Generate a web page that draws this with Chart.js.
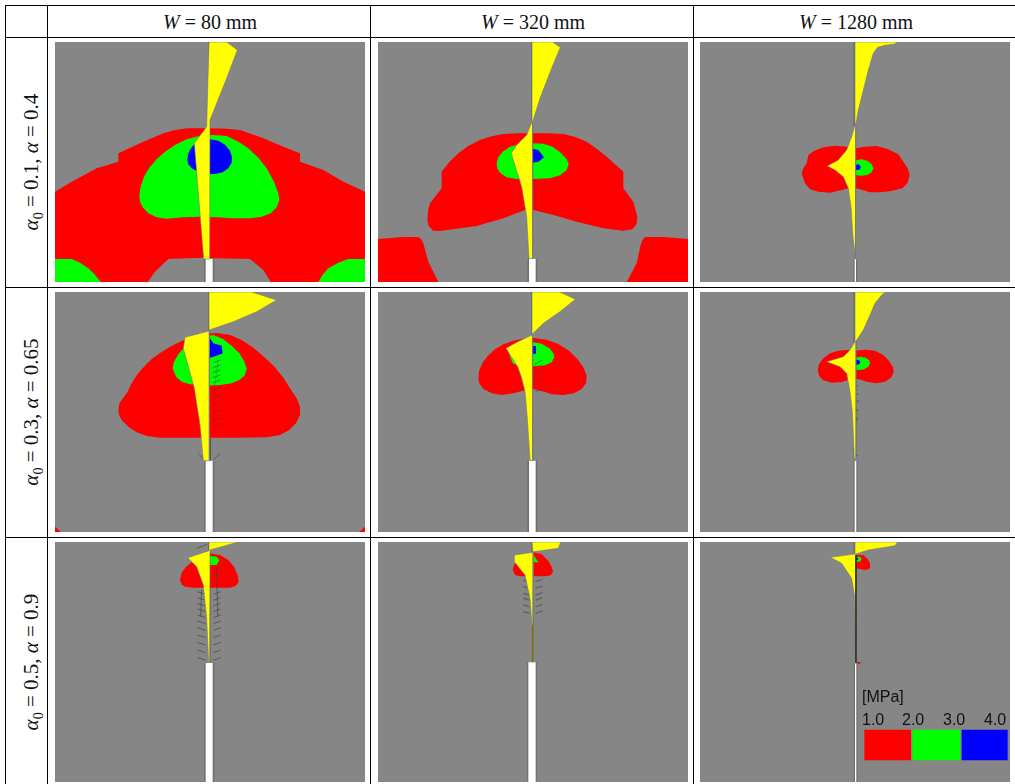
<!DOCTYPE html>
<html>
<head>
<meta charset="utf-8">
<title>Stress maps</title>
<script src="https://cdn.jsdelivr.net/npm/chart.js@4"></script>
<style>
	html, body { margin: 0; padding: 0; background: #fff; overflow: hidden; }
	#page { position: relative; width: 1015px; height: 784px; overflow: hidden; }
	.rule { position: absolute; background: #000; }
	.panel { position: absolute; background: #868686; overflow: hidden; }
	.panel canvas { filter: blur(0.45px); }
	.head, .side { position: absolute; font-family: "Liberation Serif", serif; color: #111; white-space: pre; }
	.head { font-size: 20px; transform: translate(-50%, -50%); }
	.side { font-size: 21px; transform: translate(-50%, -50%) rotate(-90deg); }
	sub { font-size: 14px; line-height: 0; }
	.leg { position: absolute; font-family: "Liberation Sans", sans-serif; font-size: 16px; color: #111; }
</style>
</head>
<body>
<div id="page"></div>
<script>
// tables of the figure
const widths = [80, 320, 1280];
const alpha0s = ['0.1', '0.3', '0.5'];
const alphas = ['0.4', '0.65', '0.9'];
const legendTicks = ['1.0', '2.0', '3.0', '4.0'];

const RED = '#ff0000';
const GREEN = '#00ff00';
const BLUE = '#0000ff';
const YELLOW = '#ffff00';

// outlines, panel units (930 x 720, y down)
const red11 = [[0,449],[50,419],[125,379],[190,359],[190,334],[255,304],[325,274],[360,264],[395,259],[465,259],[515,260],[555,264],[625,289],[685,314],[735,334],[735,359],[805,384],[865,419],[930,449],[930,720],[0,720]];
const hole11 = [[278,720],[300,689],[340,651],[395,649],[450,647],[475,649],[585,651],[625,684],[647,720]];
const greenL11 = [[0,651],[50,651],[75,662],[100,679],[120,698],[137,720],[0,720]];
const greenR11 = [[930,651],[880,651],[850,662],[820,679],[803,698],[790,720],[930,720]];
const green11 = [[253,459],[257,434],[267,404],[283,377],[305,352],[330,329],[360,309],[395,292],[435,281],[475,279],[515,282],[550,299],[580,319],[610,347],[635,379],[657,419],[670,454],[673,474],[665,496],[647,514],[620,524],[585,529],[535,529],[485,526],[435,524],[385,526],[335,530],[305,526],[280,514],[263,496],[255,479]];
const blue11 = [[397,354],[399,337],[407,320],[418,307],[435,298],[465,292],[490,296],[510,308],[524,325],[531,345],[530,362],[520,379],[503,391],[480,396],[455,395],[430,389],[410,379],[400,367]];
const yellow11 = [[462,0],[515,0],[547,24],[515,109],[465,234],[464,651],[446,651],[418,304],[455,254]];

const red12 = [[148,535],[150,505],[156,484],[191,439],[191,389],[214,360],[241,334],[272,311],[306,294],[340,283],[376,276],[420,274],[462,274],[510,274],[556,276],[592,285],[626,299],[656,320],[686,344],[711,367],[736,389],[736,439],[766,479],[778,524],[776,545],[763,562],[736,566],[676,559],[596,539],[526,519],[466,504],[441,504],[376,529],[296,552],[186,567],[165,566],[152,552]];
const redL12 = [[0,591],[76,585],[121,585],[130,592],[136,604],[151,659],[181,720],[0,720]];
const redR12 = [[930,591],[856,585],[801,585],[793,595],[788,609],[776,664],[746,720],[930,720]];
const green12 = [[356,364],[361,346],[374,329],[396,314],[426,306],[462,304],[496,305],[524,314],[548,332],[566,352],[572,366],[566,384],[546,400],[516,409],[466,411],[416,411],[386,406],[366,392],[358,379]];
const blue12 = [[464,320],[481,324],[498,346],[481,359],[464,362]];
const yellow12 = [[462,0],[524,0],[547,16],[521,79],[486,169],[464,239],[464,650],[453,650],[446,524],[431,434],[406,354],[400,334],[416,309],[446,279],[462,239]];

const red13 = [[305,394],[310,379],[320,364],[325,339],[343,326],[370,316],[405,311],[440,314],[467,319],[495,314],[530,312],[565,322],[595,337],[610,359],[623,379],[629,399],[623,422],[607,439],[575,447],[540,451],[510,451],[480,442],[455,436],[425,444],[390,452],[355,449],[330,442],[315,424],[310,409]];
const green13 = [[467,355],[485,352],[503,357],[515,367],[520,379],[515,391],[503,398],[485,401],[467,400]];
const blue13 = [[467,368],[475,367],[481,371],[482,377],[478,383],[467,384]];
const yellow13 = [[465,0],[590,0],[585,6],[555,10],[533,16],[520,34],[505,84],[490,144],[475,204],[468,244],[468,649],[465,649],[458,574],[453,494],[445,439],[430,404],[405,384],[382,372],[415,354],[440,324],[455,284],[465,249]];

const red21 = [[190,354],[193,334],[205,317],[217,301],[230,274],[247,247],[267,224],[290,201],[315,183],[345,164],[375,149],[410,134],[445,125],[485,123],[525,129],[560,144],[595,167],[630,197],[660,226],[685,257],[705,289],[725,319],[735,344],[735,369],[723,394],[703,414],[675,429],[635,436],[555,437],[475,437],[395,437],[315,437],[275,432],[245,421],[220,404],[200,384],[192,369]];
const cornerL21 = [[0,704],[18,720],[0,720]];
const cornerR21 = [[930,704],[912,720],[930,720]];
const green21 = [[353,229],[357,209],[370,187],[387,167],[410,149],[440,136],[475,129],[505,142],[530,161],[553,184],[567,207],[575,229],[570,249],[553,264],[530,274],[495,279],[445,281],[405,277],[380,269],[363,254]];
const blue21 = [[465,139],[475,154],[500,161],[503,184],[485,191],[465,197]];
const yellow21 = [[462,0],[590,0],[665,24],[605,59],[535,89],[463,114],[463,506],[445,506],[435,399],[418,289],[385,169],[390,136],[462,117]];
const ticks21 = [[473,212],[497,204],null,[473,227],[497,219],null,[473,242],[497,234],null,[473,257],[497,249],null,[473,272],[497,264],null,[473,295],[497,287],null,[473,317],[497,309],null,[473,339],[497,331],null,[473,362],[497,354],null,[473,385],[497,377],null,[473,407],[497,399],null,[430,484],[447,504],null,[495,484],[475,504],null,[465,439],[465,506]];
const cross21 = [[489,205],[480,280]];

const red22 = [[301,259],[303,237],[313,214],[329,192],[351,172],[376,157],[406,146],[436,140],[466,138],[506,143],[541,156],[573,176],[598,201],[616,226],[626,251],[624,274],[611,291],[588,304],[556,309],[521,307],[491,297],[466,291],[441,295],[406,304],[371,309],[341,304],[316,291],[304,274]];
const green22 = [[394,188],[404,176],[421,162],[441,154],[466,151],[491,155],[514,169],[526,184],[529,196],[521,211],[501,220],[466,223],[425,223],[404,214]];
const blue22 = [[464,162],[474,162],[474,185],[464,185]];
const yellow22 = [[462,0],[546,0],[592,22],[546,59],[496,94],[463,126],[464,506],[456,506],[448,379],[441,299],[431,258],[419,224],[384,169],[416,151],[462,129]];
const ticks22 = [[470,217],[492,205],null,[472,244],[492,236],null,[472,266],[492,258],null,[472,298],[490,294]];

const red23 = [[353,234],[357,217],[370,199],[390,184],[415,176],[440,174],[465,176],[495,173],[525,176],[550,189],[567,207],[579,226],[581,241],[573,257],[555,269],[530,274],[500,269],[475,261],[455,261],[425,270],[395,272],[370,265],[357,251]];
const green23 = [[468,197],[482,194],[497,197],[507,205],[510,214],[505,224],[492,232],[480,234],[468,233]];
const blue23 = [[466,204],[473,203],[479,206],[481,211],[478,216],[472,218],[466,217]];
const yellow23 = [[465,0],[557,0],[545,9],[525,34],[510,69],[490,114],[468,147],[468,499],[463,499],[457,359],[450,299],[440,244],[420,224],[380,209],[430,194],[450,174],[465,149]];
const ticks23 = [[472,279],[472,283],null,[473,304],[473,308],null,[473,325],[473,330],null,[473,352],[472,358],null,[472,376],[471,380],null,[462,398],[462,402],null,[461,424],[461,428],null,[460,450],[464,453],null,[460,470],[463,474],null,[468,488],[472,492]];

const red31 = [[375,114],[380,92],[393,74],[410,61],[435,45],[463,34],[495,39],[520,54],[537,74],[548,99],[551,119],[543,131],[525,137],[475,137],[415,137],[390,134],[380,127]];
const green31 = [[465,42],[485,44],[493,54],[485,69],[465,69]];
const yellow31 = [[462,0],[550,0],[465,24],[464,359],[461,359],[455,229],[445,129],[425,74],[398,47],[462,26]];
const ticks31 = [[425,19],[457,7],null,[475,104],[497,94],null,[475,84],[497,74],null,[427,149],[452,157],null,[475,157],[497,149],null,[427,167],[452,175],null,[475,175],[497,167],null,[427,184],[452,192],null,[475,192],[497,184],null,[427,201],[452,209],null,[475,209],[497,201],null,[427,219],[452,227],null,[475,227],[497,219],null,[427,237],[452,245],null,[475,245],[497,237],null,[427,257],[452,265],null,[475,265],[497,257],null,[427,279],[452,287],null,[475,287],[497,279],null,[427,301],[452,309],null,[475,309],[497,301],null,[427,324],[452,332],null,[475,332],[497,324],null,[427,347],[452,355],null,[475,355],[497,347],null,[440,144],[437,224],null,[485,80],[488,224],null,[464,26],[465,359]];

const red32 = [[404,84],[408,69],[421,54],[441,39],[466,31],[491,37],[511,57],[521,74],[525,89],[518,100],[501,103],[466,103],[426,103],[411,99]];
const green32 = [[466,39],[473,49],[481,61],[466,61]];
const yellow32 = [[462,0],[548,0],[541,19],[466,29],[465,249],[462,249],[456,169],[441,99],[409,59],[409,39],[465,31]];
const ticks32 = [[436,114],[454,119],null,[473,119],[493,112],null,[436,134],[454,139],null,[473,139],[493,132],null,[436,154],[454,159],null,[473,159],[493,152],null,[436,169],[454,174],null,[473,174],[493,167],null,[436,189],[454,194],null,[473,194],[493,187],null,[436,209],[454,214],null,[473,214],[493,207]];
const olive32 = [[464,249],[464,361]];

const red33 = [[428,64],[465,38],[490,40],[502,50],[510,64],[510,78],[503,83],[490,83],[465,78],[445,80]];
const green33 = [[468,44],[480,44],[485,51],[480,59],[468,59]];
const blue33 = [[469,47],[474,47],[474,54],[469,54]];
const yellow33 = [[465,0],[593,0],[585,11],[505,24],[468,36],[468,359],[465,359],[464,164],[455,109],[425,64],[390,46],[465,36]];
const black33 = [[468,40],[468,364]];
const spot33 = [[470,359],[485,362],[475,367]];
const legendRed = [[493,563],[633,563],[633,655],[493,655]];
const legendGreen = [[637,563],[781,563],[781,655],[637,655]];
const legendBlue = [[785,563],[923,563],[923,655],[785,655]];

// crack gap rectangles
const gap11 = [[452,651],[473,651],[473,720],[452,720]];
const edge11 = [[447,651],[478,651],[478,720],[447,720]];
const gap12 = [[453,650],[473,650],[473,720],[453,720]];
const edge12 = [[448,650],[478,650],[478,720],[448,720]];
const gap13 = [[464,652],[468,652],[468,720],[464,720]];
const edge13 = [[460,652],[472,652],[472,720],[460,720]];
const gap21 = [[452,506],[473,506],[473,720],[452,720]];
const edge21 = [[447,506],[478,506],[478,720],[447,720]];
const gap22 = [[453,506],[473,506],[473,720],[453,720]];
const edge22 = [[448,506],[478,506],[478,720],[448,720]];
const gap23 = [[464,507],[469,507],[469,720],[464,720]];
const edge23 = [[460,507],[473,507],[473,720],[460,720]];
const gap31 = [[452,363],[473,363],[473,720],[452,720]];
const edge31 = [[447,363],[478,363],[478,720],[447,720]];
const gap32 = [[451,361],[473,361],[473,720],[451,720]];
const edge32 = [[447,361],[477,361],[477,720],[447,720]];
const gap33 = [[465,364],[469,364],[469,720],[465,720]];
const edge33 = [[461,364],[473,364],[473,720],[461,720]];

const crack11 = [[462,0],[462,240]];
const crack12 = [[461,0],[461,240]];
const crack13 = [[462,0],[462,250]];
const crack21 = [[461,0],[461,115]];
const crack22 = [[461,0],[461,128]];
const crack23 = [[462,0],[462,150]];
const crack31 = [[461,0],[461,26]];
const crack32 = [[461,0],[461,31]];
const crack33 = [[463,0],[463,36]];

const toPoints = (pts) => pts.map((p) => (p ? { x: p[0], y: p[1] } : { x: null, y: null }));

const area = (pts, color) => ({
	data: toPoints(pts.concat([pts[0]])),
	fill: 'shape',
	backgroundColor: color,
	borderColor: color,
	borderWidth: 0,
	pointRadius: 0
});

const wing = (pts) => ({
	data: toPoints(pts.concat([pts[0]])),
	fill: 'shape',
	backgroundColor: YELLOW,
	borderColor: 'rgba(112,112,140,0.55)',
	borderWidth: 1,
	pointRadius: 0
});

const stroke = (pts, color, width) => ({
	data: toPoints(pts),
	fill: false,
	borderColor: color,
	borderWidth: width,
	pointRadius: 0,
	spanGaps: false
});

const EDGE = '#707070';
const TICK = 'rgba(60,60,60,0.6)';

// each panel lists its shapes from the bottom up
const panels = [
	[
		area(red11, RED), area(hole11, '#868686'), area(greenL11, GREEN), area(greenR11, GREEN), area(green11, GREEN), area(blue11, BLUE),
		stroke(crack11, EDGE, 1), area(edge11, EDGE), area(gap11, '#fff'), wing(yellow11)
	],
	[
		area(red12, RED), area(redL12, RED), area(redR12, RED), area(green12, GREEN), area(blue12, BLUE),
		stroke(crack12, EDGE, 1), area(edge12, EDGE), area(gap12, '#fff'), wing(yellow12)
	],
	[
		area(red13, RED), area(green13, GREEN), area(blue13, BLUE),
		stroke(crack13, EDGE, 1), area(edge13, EDGE), area(gap13, '#fff'), wing(yellow13)
	],
	[
		area(red21, RED), area(cornerL21, RED), area(cornerR21, RED), area(green21, GREEN), area(blue21, BLUE),
		stroke(ticks21, TICK, 1), stroke(cross21, 'rgba(60,60,60,0.3)', 1), stroke(crack21, EDGE, 1), area(edge21, EDGE), area(gap21, '#fff'), wing(yellow21)
	],
	[
		area(red22, RED), area(green22, GREEN), area(blue22, BLUE),
		stroke(ticks22, TICK, 1), stroke(crack22, EDGE, 1), area(edge22, EDGE), area(gap22, '#fff'), wing(yellow22)
	],
	[
		area(red23, RED), area(green23, GREEN), area(blue23, BLUE),
		stroke(ticks23, TICK, 1.5), stroke(crack23, EDGE, 1), area(edge23, EDGE), area(gap23, '#fff'), wing(yellow23)
	],
	[
		area(red31, RED), area(green31, GREEN),
		stroke(ticks31, TICK, 1), stroke(crack31, EDGE, 1), area(edge31, EDGE), area(gap31, '#fff'), wing(yellow31)
	],
	[
		area(red32, RED), area(green32, GREEN),
		stroke(ticks32, 'rgba(90,90,90,0.8)', 1.5), stroke(crack32, EDGE, 1), area(edge32, EDGE), area(gap32, '#fff'), wing(yellow32), stroke(olive32, '#7a7000', 1.5)
	],
	[
		area(red33, RED), area(green33, GREEN), area(blue33, BLUE),
		stroke(crack33, EDGE, 1), area(edge33, EDGE), area(gap33, '#fff'), wing(yellow33), stroke(black33, '#1a1a00', 1.2), area(spot33, RED),
		area(legendRed, RED), area(legendGreen, GREEN), area(legendBlue, BLUE)
	]
];

const page = document.querySelector('#page');

const addDiv = (cls, left, top, w, h, html) => {
	let d = document.createElement('div');
	d.className = cls;
	d.style.left = left + 'px';
	d.style.top = top + 'px';
	if (w !== null) d.style.width = w + 'px';
	if (h !== null) d.style.height = h + 'px';
	if (html) d.innerHTML = html;
	page.appendChild(d);
	return d;
};

// table rules
[5, 37, 287, 537].forEach((y) => addDiv('rule', 5, y, 1010, 1));
[5, 47, 370, 693].forEach((x) => addDiv('rule', x, 5, 1, 779));

const headX = [210, 533, 856];
const sideY = [162, 412, 662];
widths.forEach((w, i) => addDiv('head', headX[i], 22, null, null, `<i>W</i> = ${w} mm`));
alpha0s.forEach((a, i) => {
	addDiv('side', 31, sideY[i], null, null, `<i>α</i><sub>0</sub> = ${a}, <i>α</i> = ${alphas[i]}`);
});

const panelX = [55, 378, 700];
const panelY = [42, 292, 542];

panels.forEach((sets, n) => {
	let box = addDiv('panel', panelX[n % 3], panelY[Math.floor(n / 3)], 310, 240);
	let cv = document.createElement('canvas');
	cv.width = 310;
	cv.height = 240;
	cv.style.display = 'block';
	box.appendChild(cv);
	sets.forEach((s, i) => {
		s.order = sets.length - i;
	});
	new Chart(cv, {
		type: 'line',
		data: { datasets: sets },
		options: {
			responsive: false,
			animation: false,
			layout: { padding: 0 },
			plugins: { legend: { display: false }, tooltip: { enabled: false } },
			scales: {
				x: { type: 'linear', display: false, min: 0, max: 930 },
				y: { type: 'linear', display: false, min: 0, max: 720, reverse: true }
			}
		}
	});
});

// colour key of the last panel
addDiv('leg', 862, 688, null, null, '[MPa]');
const legendX = [862, 902, 943, 984];
legendTicks.forEach((t, i) => addDiv('leg', legendX[i], 711, null, null, t));
</script>
</body>
</html>
